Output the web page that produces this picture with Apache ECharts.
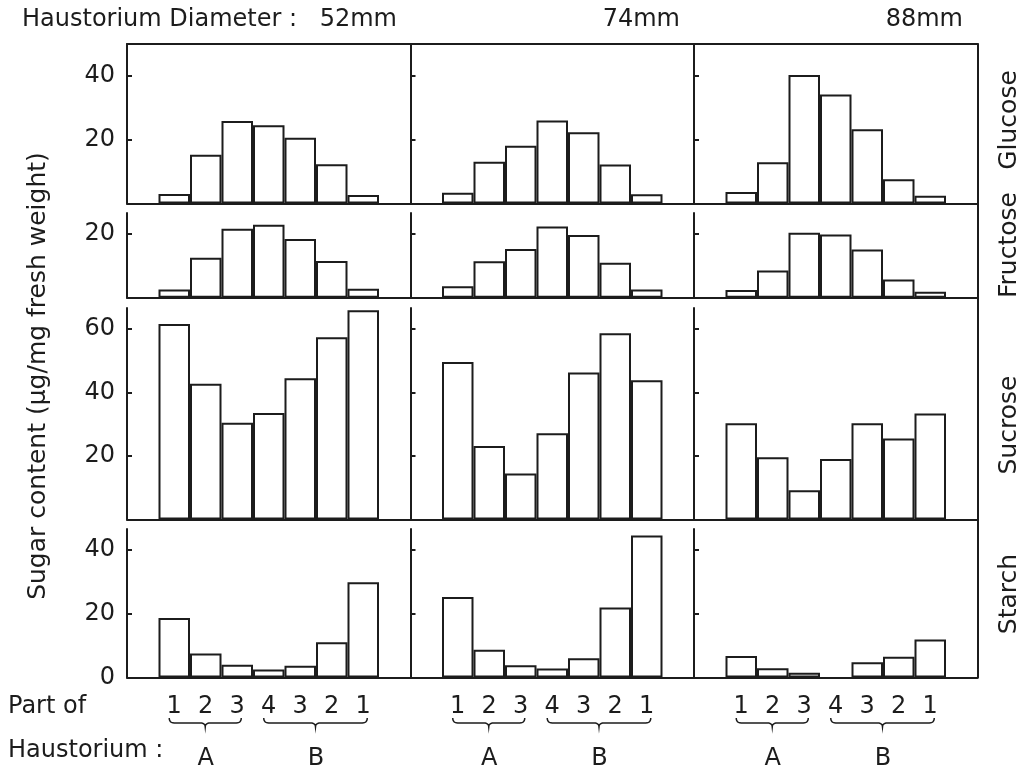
<!DOCTYPE html>
<html>
<head>
<meta charset="utf-8">
<script src="https://cdn.jsdelivr.net/npm/echarts@6/dist/echarts.min.js"></script>
<style>
html,body{margin:0;padding:0;background:#fff;}
#main{width:1027px;height:773px;}
</style>
</head>
<body>
<div id="main"></div>
<script>
// ---- data ----
const diameters = ['52mm', '74mm', '88mm'];
const sugars = ['Glucose', 'Fructose', 'Sucrose', 'Starch'];
const partLabels = ['1', '2', '3', '4', '3', '2', '1'];
const groupLabels = ['A', 'B'];
const yTitle = 'Sugar content (\u00b5g/mg fresh weight)';

const glucose52 = [3.0, 15.3, 25.9, 24.5, 20.6, 12.3, 2.7];
const glucose74 = [3.4, 13.1, 18.1, 26.0, 22.3, 12.2, 2.9];
const glucose88 = [3.6, 12.9, 40.3, 34.2, 23.3, 7.6, 2.4];
const fructose52 = [2.6, 12.5, 21.6, 22.8, 18.4, 11.5, 2.8];
const fructose74 = [3.6, 11.4, 15.2, 22.3, 19.6, 10.9, 2.6];
const fructose88 = [2.4, 8.5, 20.3, 19.8, 15.1, 5.7, 1.9];
const sucrose52 = [61.5, 42.7, 30.4, 33.5, 44.4, 57.3, 65.8];
const sucrose74 = [49.5, 23.1, 14.5, 27.1, 46.2, 58.6, 43.8];
const sucrose88 = [30.3, 19.6, 9.2, 19.0, 30.3, 25.5, 33.3];
const starch52 = [18.6, 7.5, 4.0, 2.5, 3.7, 11.0, 29.8];
const starch74 = [25.2, 8.7, 3.8, 2.8, 6.0, 21.9, 44.5];
const starch88 = [6.7, 2.9, 1.5, null, 4.8, 6.5, 11.9];

const rowMax = [50, 26.5, 66.5, 46.5];
const rowTicks = [[20, 40], [20], [20, 40, 60], [20, 40]];
const bottomLeftLabels = [0, 20, 40];

// ---- layout ----
const INK = '#1c1c1c';
const FONT = 'DejaVu Sans';
const FS = 24;
const colLeft = [127, 410.5, 694];
const colWidth = 283.5;
const rowTop = [44, 213, 308, 529];
const rowHeight = [159.5, 84.7, 211.5, 148.5];

const table = [
  [glucose52, glucose74, glucose88],
  [fructose52, fructose74, fructose88],
  [sucrose52, sucrose74, sucrose88],
  [starch52, starch74, starch88]
];

const slots = [''].concat(partLabels, ['']);

const grids = [], xAxes = [], yAxes = [], series = [];
for (let r = 0; r < 4; r++) {
  for (let c = 0; c < 3; c++) {
    const k = r * 3 + c;
    grids.push({left: colLeft[c], top: rowTop[r], width: colWidth, height: rowHeight[r]});
    xAxes.push({
      gridIndex: k, type: 'category', data: slots,
      axisLine: {show: true, onZero: false, lineStyle: {color: INK, width: 2}},
      axisTick: {show: false},
      axisLabel: {show: r === 3, interval: 0, color: INK, fontFamily: FONT, fontSize: FS, margin: 17},
      splitLine: {show: false}
    });
    const labelVals = (r === 3 && c === 0) ? bottomLeftLabels : rowTicks[r];
    yAxes.push({
      gridIndex: k, type: 'value', min: 0, max: rowMax[r], interval: 20,
      axisLine: {show: true, onZero: false, lineStyle: {color: INK, width: 2}},
      axisTick: {show: true, inside: true, length: 5, lineStyle: {color: INK, width: 2}, customValues: rowTicks[r]},
      axisLabel: {show: c === 0, customValues: labelVals, color: INK, fontFamily: FONT, fontSize: FS, margin: 12},
      splitLine: {show: false}
    });
    series.push({
      type: 'bar', xAxisIndex: k, yAxisIndex: k,
      data: [null].concat(table[r][c], [null]),
      barCategoryGap: '0%',
      itemStyle: {color: '#fff', borderColor: INK, borderWidth: 2},
      silent: true
    });
  }
}
// outer frame: top line and right line
grids.push({left: 127, top: 44, width: 850.5, height: 633.5});
xAxes.push({gridIndex: 12, type: 'value', position: 'top', min: 0, max: 1,
  axisLine: {show: true, onZero: false, lineStyle: {color: INK, width: 2}}, axisTick: {show: false}, axisLabel: {show: false}, splitLine: {show: false}});
yAxes.push({gridIndex: 12, type: 'value', position: 'right', min: 0, max: 1,
  axisLine: {show: true, onZero: false, lineStyle: {color: INK, width: 2}}, axisTick: {show: false}, axisLabel: {show: false}, splitLine: {show: false}});
series.push({type: 'line', xAxisIndex: 12, yAxisIndex: 12, data: [], silent: true});

function txt(text, x, y, align, size) {
  return {
    type: 'text', x: x, y: y,
    style: {text: text, fill: INK, font: (size || FS) + 'px "' + FONT + '"', align: align || 'left', verticalAlign: 'middle'}
  };
}

const staticGraphics = [
  txt('Haustorium Diameter :', 22, 20),
  txt(diameters[0], 397, 20, 'right'),
  txt(diameters[1], 680, 20, 'right'),
  txt(diameters[2], 963, 20, 'right'),
  txt('Part of', 8, 707),
  txt('Haustorium :', 8, 751),
  Object.assign(txt(yTitle, 38, 376, 'center', 25), {rotation: Math.PI / 2})
];
const sugarY = [120, 245, 425, 594];
sugars.forEach(function (s, i) {
  staticGraphics.push(Object.assign(txt(s, 1009, sugarY[i], 'center', 25), {rotation: Math.PI / 2}));
});

const chart = echarts.init(document.getElementById('main'), null, {renderer: 'canvas'});
chart.setOption({
  animation: false,
  backgroundColor: '#fff',
  grid: grids, xAxis: xAxes, yAxis: yAxes, series: series,
  graphic: staticGraphics
});

// braces and A/B labels positioned from the bottom row's category axis
function quad(p0, p1, p2, n, out) {
  for (let i = 1; i <= n; i++) {
    const t = i / n;
    out.push([(1 - t) * (1 - t) * p0[0] + 2 * (1 - t) * t * p1[0] + t * t * p2[0],
              (1 - t) * (1 - t) * p0[1] + 2 * (1 - t) * t * p1[1] + t * t * p2[1]]);
  }
}
function bracePoints(x1, x2, y0, y1, y2) {
  const r = 5, xm = (x1 + x2) / 2;
  const pts = [[x1, y0]];
  quad([x1, y0], [x1, y1], [x1 + r, y1], 6, pts);
  pts.push([xm - r, y1]);
  quad([xm - r, y1], [xm, y1], [xm, y2], 6, pts);
  quad([xm, y2], [xm, y1], [xm + r, y1], 6, pts);
  pts.push([x2 - r, y1]);
  quad([x2 - r, y1], [x2, y1], [x2, y0], 6, pts);
  return pts;
}
const groups = [[1, 3], [4, 7]];
const extra = [];
for (let c = 0; c < 3; c++) {
  groups.forEach(function (g, gi) {
    const xa = chart.convertToPixel({xAxisIndex: 9 + c}, g[0]);
    const xb = chart.convertToPixel({xAxisIndex: 9 + c}, g[1]);
    extra.push({type: 'polyline', shape: {points: bracePoints(xa - 5, xb + 4, 718, 723, 727)},
      style: {stroke: INK, lineWidth: 1.5, fill: null}});
    extra.push(txt(groupLabels[gi], (xa + xb) / 2, 759, 'center'));
  });
}
chart.setOption({graphic: staticGraphics.concat(extra)});
</script>
</body>
</html>
